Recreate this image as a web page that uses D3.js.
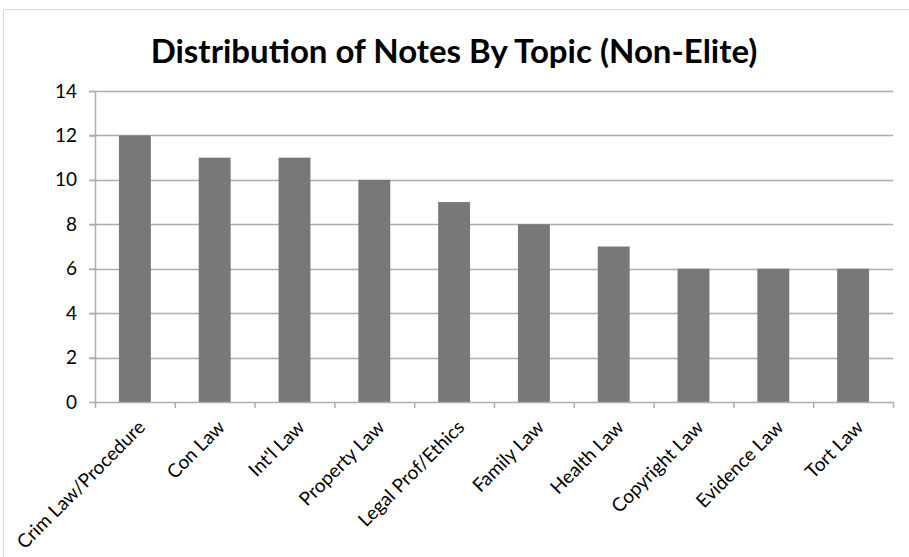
<!DOCTYPE html>
<html>
<head>
<meta charset="utf-8">
<script src="https://cdn.jsdelivr.net/npm/d3@7"></script>
<style>
  body { margin: 0; background: #fff; }
  text { font-family: Lato, "Open Sans", sans-serif; fill: #000; }
</style>
</head>
<body>
<svg id="chart" width="909" height="557"></svg>
<script>
// notes per topic
var topics = ["Crim Law/Procedure", "Con Law", "Int'l Law", "Property Law", "Legal Prof/Ethics",
              "Family Law", "Health Law", "Copyright Law", "Evidence Law", "Tort Law"];
var notes = [12, 11, 11, 10, 9, 8, 7, 6, 6, 6];
var yTicks = [0, 2, 4, 6, 8, 10, 12, 14];
var title = "Distribution of Notes By Topic (Non-Elite)";

var svg = d3.select("#chart");

// outer chart frame
svg.append("rect").attr("x", 3.5).attr("y", 9.5).attr("width", 920).attr("height", 600)
    .attr("fill", "none").attr("stroke", "#d9d9d9");

var pLeft = 95, pRight = 893, pTop = 91, pBottom = 402;

var x = d3.scaleBand().domain(topics).range([pLeft, pRight]).paddingInner(0.6).paddingOuter(0.3);
var y = d3.scaleLinear().domain([0, 14]).range([pBottom, pTop]);

// gridlines
svg.append("g").selectAll("line").data(yTicks.filter(function(d){ return d > 0; }))
    .enter().append("line")
    .attr("x1", pLeft - 6).attr("x2", pRight)
    .attr("y1", function(d){ return Math.round(y(d)) + 0.5; })
    .attr("y2", function(d){ return Math.round(y(d)) + 0.5; })
    .attr("stroke", "#adadad").attr("stroke-width", 1.5);

// bars
svg.append("g").selectAll("rect").data(notes).enter().append("rect")
    .attr("x", function(d, i){ return x(topics[i]); })
    .attr("width", x.bandwidth())
    .attr("y", function(d){ return y(d); })
    .attr("height", function(d){ return y(0) - y(d); })
    .attr("fill", "#787878");

// y axis
var yAxis = svg.append("g").attr("transform", "translate(" + pLeft + ",0)")
    .call(d3.axisLeft(y).tickValues(yTicks).tickSize(6).tickPadding(12));
yAxis.select(".domain").attr("stroke", "#adadad").attr("stroke-width", 1.5).attr("d", "M0.5," + pTop + "V" + pBottom);
yAxis.selectAll(".tick line").attr("stroke", "#adadad").attr("stroke-width", 1.5);
yAxis.selectAll(".tick text").style("font-size", "19px").style("font-family", "Lato, sans-serif");

// x axis: ticks between categories
var xTicks = d3.range(topics.length + 1).map(function(i){ return pLeft + i * (pRight - pLeft) / topics.length; });
svg.append("line").attr("x1", pLeft).attr("x2", pRight)
    .attr("y1", pBottom + 0.5).attr("y2", pBottom + 0.5)
    .attr("stroke", "#adadad").attr("stroke-width", 1.5);
svg.append("g").selectAll("line").data(xTicks).enter().append("line")
    .attr("x1", function(d){ return d + 0.5; }).attr("x2", function(d){ return d + 0.5; })
    .attr("y1", pBottom).attr("y2", pBottom + 6)
    .attr("stroke", "#adadad").attr("stroke-width", 1.5);

// rotated category labels
svg.append("g").selectAll("text").data(topics).enter().append("text")
    .attr("transform", function(d){
        return "translate(" + (x(d) + x.bandwidth() / 2 + 2) + "," + (pBottom + 17) + ") rotate(-45)";
    })
    .attr("text-anchor", "end")
    .attr("dy", "0.7em")
    .style("font-size", "19px")
    .text(function(d){ return d; });

// title
svg.append("text").attr("x", 454).attr("y", 63).attr("text-anchor", "middle")
    .style("font-size", "33px").style("font-weight", "bold")
    .text(title);
</script>
</body>
</html>
